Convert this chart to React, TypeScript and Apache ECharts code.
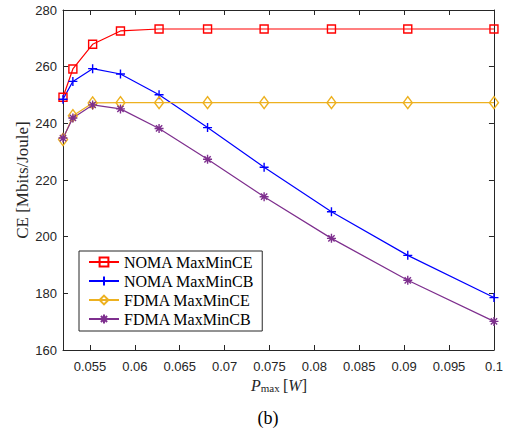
import React, { useEffect, useRef } from "react";
import * as echarts from "echarts";

const pmax = [0.052, 0.0531, 0.0553, 0.0584, 0.0627, 0.0681, 0.0744, 0.0819, 0.0904, 0.1];
const nomaCE = [249.2, 259.2, 267.9, 272.6, 273.3, 273.3, 273.3, 273.3, 273.3, 273.3];
const nomaCB = [248.5, 254.8, 259.3, 257.4, 250.1, 238.5, 224.5, 208.8, 193.4, 178.5];
const fdmaCE = [234.3, 242.7, 247.2, 247.3, 247.3, 247.3, 247.3, 247.3, 247.3, 247.3];
const fdmaCB = [234.8, 241.9, 246.5, 245.1, 238.2, 227.3, 214.1, 199.4, 184.6, 170.1];
const xTicks = [0.055, 0.06, 0.065, 0.07, 0.075, 0.08, 0.085, 0.09, 0.095, 0.1];
const seriesNames = ["NOMA MaxMinCE", "NOMA MaxMinCB", "FDMA MaxMinCE", "FDMA MaxMinCB"];

const SQUARE = "path://M-4,-4L4,-4L4,4L-4,4Z";
const PLUS = "path://M0,-5L0,5M-5,0L5,0";
const STAR = "path://M0,-5L0,5M-5,0L5,0M-3.5,-3.5L3.5,3.5M-3.5,3.5L3.5,-3.5";
const DIAMOND = "path://M0,-6L4.5,0L0,6L-4.5,0Z";

export default function App() {
  const ref = useRef<HTMLDivElement>(null);
  useEffect(() => {
    if (!ref.current) return;
    const chart = echarts.init(ref.current, null, { renderer: "svg" });
    const axisColor = "#262626";
    const tickFont = { fontFamily: "Liberation Sans", fontSize: 13, color: axisColor };
    const mk = (name: string, data: number[], color: string, symbol: string, size: number | number[]) => ({
      name,
      type: "line",
      data: pmax.map((x, i) => [x, data[i]]),
      symbol,
      symbolSize: size,
      lineStyle: { color, width: 1.2 },
      itemStyle: { color: "rgba(255,255,255,0)", borderColor: color, borderWidth: 1.4 },
      emphasis: { disabled: true },
    });
    chart.setOption({
      animation: false,
      grid: { left: 63, right: 11, top: 10, bottom: 81 },
      xAxis: [
        {
          type: "value",
          min: 0.052,
          max: 0.1,
          axisLine: { show: true, lineStyle: { color: axisColor } },
          axisTick: { inside: true, length: 5, customValues: xTicks, lineStyle: { color: axisColor } },
          axisLabel: {
            customValues: xTicks,
            formatter: (v: number) => String(+v.toFixed(3)),
            margin: 10,
            ...tickFont,
          },
          splitLine: { show: false },
        },
        {
          type: "value",
          position: "top",
          min: 0.052,
          max: 0.1,
          axisLine: { show: true, lineStyle: { color: axisColor } },
          axisTick: { inside: true, length: 5, customValues: xTicks, lineStyle: { color: axisColor } },
          axisLabel: { show: false },
          splitLine: { show: false },
        },
      ],
      yAxis: [
        {
          type: "value",
          min: 160,
          max: 280,
          interval: 20,
          axisLine: { show: true, lineStyle: { color: axisColor } },
          axisTick: { show: true, inside: true, length: 5, lineStyle: { color: axisColor } },
          axisLabel: { margin: 6, ...tickFont },
          splitLine: { show: false },
        },
        {
          type: "value",
          position: "right",
          min: 160,
          max: 280,
          interval: 20,
          axisLine: { show: true, lineStyle: { color: axisColor } },
          axisTick: { show: true, inside: true, length: 5, lineStyle: { color: axisColor } },
          axisLabel: { show: false },
          splitLine: { show: false },
        },
      ],
      legend: {
        data: seriesNames,
        orient: "vertical",
        left: 79,
        top: 251,
        padding: [3, 8, 4, 9],
        itemGap: 3,
        itemWidth: 30,
        itemHeight: 11,
        borderColor: axisColor,
        borderWidth: 1,
        borderRadius: 0,
        backgroundColor: "#fff",
        selectedMode: false,
        textStyle: { fontFamily: "Liberation Serif", fontSize: 16, color: "#000" },
      },
      series: [
        mk(seriesNames[0], nomaCE, "#FF0000", SQUARE, 8),
        mk(seriesNames[1], nomaCB, "#0000FF", PLUS, 9),
        mk(seriesNames[2], fdmaCE, "#EDB120", DIAMOND, [9, 12]),
        mk(seriesNames[3], fdmaCB, "#7E2F8E", STAR, 9),
      ],
      graphic: [
        {
          type: "text",
          x: 22,
          y: 180,
          rotation: Math.PI / 2,
          style: {
            text: "CE [Mbits/Joule]",
            fontFamily: "Liberation Serif",
            fontSize: 17,
            fill: axisColor,
            align: "center",
            verticalAlign: "middle",
          },
        },
        {
          type: "text",
          x: 279,
          y: 385,
          style: {
            text: "{i|P}{s|max} {n|[}{i|W}{n|]}",
            align: "center",
            verticalAlign: "middle",
            rich: {
              i: { fontFamily: "Liberation Serif", fontStyle: "italic", fontSize: 16, fill: axisColor },
              s: { fontFamily: "Liberation Serif", fontSize: 11, fill: axisColor, padding: [6, 0, 0, 0] },
              n: { fontFamily: "Liberation Serif", fontSize: 16, fill: axisColor },
            },
          },
        },
        {
          type: "text",
          x: 268,
          y: 418,
          style: {
            text: "(b)",
            fontFamily: "Liberation Serif",
            fontSize: 18,
            fill: "#000",
            align: "center",
            verticalAlign: "middle",
          },
        },
      ],
    });
    return () => chart.dispose();
  }, []);
  return <div ref={ref} style={{ width: 506, height: 431, position: "absolute", left: 0, top: 0 }} />;
}
